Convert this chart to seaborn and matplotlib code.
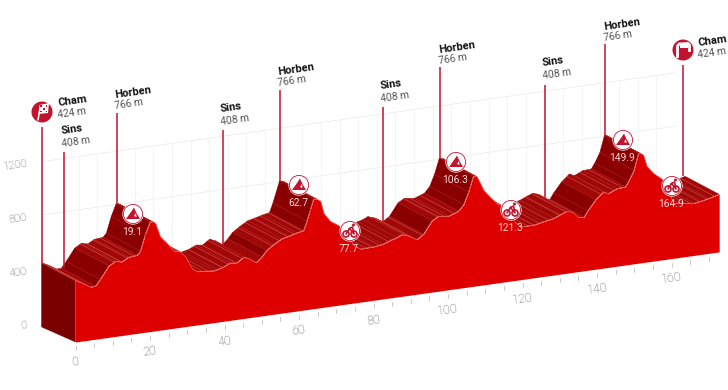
# Stage profile in an oblique 3D view: one elevation series drawn on a back and a front plane.
import matplotlib

matplotlib.use("Agg")
import matplotlib.pyplot as plt
import numpy as np
import seaborn as sns
from matplotlib.patches import Circle, Polygon, Rectangle
from matplotlib.transforms import Affine2D

km = [0, 1.8, 4.0, 5.3, 6.6, 8.9, 10.7, 12.4, 14.2, 16.5, 17.4, 18.7, 20.0, 20.6, 21.5, 22.8,
      24.6, 26.4, 28.2, 29.5, 31.3, 32.7, 37.1, 37.9, 39.5, 41.5, 43.2, 45.1, 46.5, 48.5, 50.0,
      51.3, 53.2, 55.4, 57.2, 59.4, 61.2, 62.1, 63.9, 64.9, 65.8, 66.7, 68.5, 71.1, 72.9, 74.7,
      76.5, 80.1, 82.5, 84.9, 86.2, 87.6, 89.5, 91.6, 93.4, 95.7, 97.4, 100.1, 102.8, 104.2,
      105.5, 106.8, 107.8, 108.7, 109.6, 111.4, 113.2, 115.1, 116.5, 118.2, 119.9, 123.0, 125.5,
      128.4, 130.1, 131.9, 133.5, 135.0, 136.5, 137.5, 139.6, 141.7, 143.0, 145.3, 147.6, 148.5,
      149.9, 151.1, 151.5, 152.5, 153.4, 155.2, 157.9, 159.0, 160.6, 166.0, 168.0, 170.0, 172.8]
elevation = [442, 417, 379, 379, 424, 516, 546, 534, 562, 568, 595, 714, 804, 804, 788, 682,
             626, 563, 547, 506, 412, 382, 371, 376, 387, 412, 405, 441, 427, 387, 424,
             468, 505, 540, 552, 568, 578, 645, 805, 799, 782, 686, 617, 569, 506, 417,
             380, 383, 392, 417, 427, 445, 427, 391, 424, 516, 544, 534, 561, 605,
             692, 808, 801, 747, 692, 632, 577, 547, 502, 412, 378, 378, 392,
             407, 428, 447, 432, 390, 383, 427, 501, 553, 535, 564, 568, 607,
             682, 804, 805, 787, 702, 640, 579, 507, 394, 373, 382, 394, 414]

place_names = ["Cham", "Sins", "Horben", "Sins", "Horben", "Sins", "Horben", "Sins", "Horben", "Cham"]
place_heights = ["424 m", "408 m", "766 m", "408 m", "766 m", "408 m", "766 m", "408 m", "766 m", "424 m"]
place_km = [0, 5.3, 20.0, 48.5, 63.9, 91.6, 106.8, 135.0, 151.1, 172.8]
climb_km = ["19.1", "62.7", "106.3", "149.9"]
sprint_km = ["77.7", "121.3", "164.9"]
x_ticks = [0, 20, 40, 60, 80, 100, 120, 140, 160]
y_ticks = [0, 400, 800, 1200]

RED = "#de0000"
STEEP = "#8a0000"
MILD = "#a00808"
SIDE = "#7a0000"
PIN = "#c2142f"
BASE = -18
ROT = 8

sns.set_theme(style="white")
plt.rcParams["font.family"] = ["Roboto", "DejaVu Sans"]
fig = plt.figure(figsize=(7.28, 3.9), dpi=100)
ax = fig.add_axes([0, 0, 1, 1])
ax.set_xlim(0, 728)
ax.set_ylim(390, 0)
ax.set_autoscale_on(False)
ax.axis("off")

# km / metres to picture pixels, for the near and the far plane
front = Affine2D(np.array([[3.725, 0, 75.5], [-0.5215, -0.1333, 339.6], [0, 0, 1]]))
back = Affine2D(np.array([[3.725, 0, 41.5], [-0.5215, -0.1333, 321.6], [0, 0, 1]]))

km_a = np.array(km)
ele_a = np.array(elevation)
pts_f = front.transform(np.column_stack([km_a, ele_a]))
pts_b = back.transform(np.column_stack([km_a, ele_a]))

# back wall grid
for h in [800, 1200]:
    ax.plot([0.6, 170], [h, h], color="#ececec", lw=0.6, transform=back + ax.transData, zorder=1)
for k in range(10, 170, 5):
    ax.plot([k, k], [0, 1200], color="#f3f3f3", lw=0.6, transform=back + ax.transData, zorder=1)

# end wall at the start
side = [back.transform((0, elevation[0])), front.transform((0, elevation[0])),
        front.transform((0, BASE)), back.transform((0, BASE - 22))]
ax.add_patch(Polygon(side, closed=True, fc=SIDE, ec=SIDE, lw=0.3, zorder=3))

# road surface: later km first, so the nearer ridges cover what is behind them
z = 4.0
depth = pts_f[0] - pts_b[0]
for i in range(len(km) - 2, -1, -1):
    seg = pts_b[i + 1] - pts_b[i]
    if seg[1] * depth[0] - seg[0] * depth[1] > 0:
        continue
    grade = (elevation[i + 1] - elevation[i]) / (km[i + 1] - km[i])
    steep = grade > 30
    fc = STEEP if steep else MILD
    quad = [pts_b[i], pts_b[i + 1], pts_f[i + 1], pts_f[i]]
    z += 0.001
    ax.add_patch(Polygon(quad, closed=True, fc=fc, ec=fc, lw=0.3, zorder=z))
    step = 3.2 if steep else 1.5
    for t in np.arange(km[i], km[i + 1], step):
        f = (t - km[i]) / (km[i + 1] - km[i])
        b0 = pts_b[i] + f * (pts_b[i + 1] - pts_b[i])
        f0 = pts_f[i] + f * (pts_f[i + 1] - pts_f[i])
        z += 0.001
        ax.plot([b0[0], f0[0]], [b0[1], f0[1]], color="#d8524a", lw=0.4, zorder=z)

# front face
ax.fill_between(km, elevation, BASE, color=RED, lw=0, transform=front + ax.transData, zorder=6)
sns.lineplot(x=km, y=elevation, color="#f0605a", lw=0.5, estimator=None, sort=False, ax=ax,
             transform=front + ax.transData, zorder=6.1)

# km ticks under the base
for k in range(0, 175, 5):
    p = front.transform((k, BASE))
    ax.plot([p[0], p[0]], [p[1] + 4, p[1] + 8], color="#c8c8c8", lw=0.7, zorder=2)
for k in x_ticks:
    p = front.transform((k, BASE))
    ax.text(p[0], p[1] + 20, str(k), ha="center", va="center", rotation=ROT, fontsize=9,
            color="#555555", fontweight="light")
for h in y_ticks:
    p = back.transform((0, h))
    ax.text(27.5, p[1] + 4, str(h), ha="right", va="center", rotation=ROT, fontsize=8,
            color="#555555", fontweight="light")

# place pins and labels
pin_top = [127, 152, 113, 130, 90, 107, 67, 85, 44, 65]
text_x = [57, 61, 114, 220, 277, 380, 438, 542, 603, 697]
text_y = [101, 130, 92, 108, 69, 85, 47, 62, 24, 41]
pin_x = [42, 63.5, 116.5, 222.7, 280, 383, 440, 545, 605, 682.5]
for name, height, k, top, tx, ty, x in zip(place_names, place_heights, place_km, pin_top, text_x, text_y, pin_x):
    foot = back.transform((k, float(np.interp(k, km, elevation))))
    ax.plot([x, x], [foot[1], top], color=PIN, lw=1.1, zorder=7, solid_capstyle="butt")
    ax.text(tx, ty, name, ha="left", va="center", rotation=ROT, fontsize=8, fontweight="bold",
            color="#111111", zorder=9)
    ax.text(tx, ty + 12, height, ha="left", va="center", rotation=ROT, fontsize=7.4, color="#555555",
            zorder=9)


def disc(x, y):
    ax.add_patch(Circle((x, y), 10.6, fc="white", ec="none", zorder=8))
    ax.add_patch(Circle((x, y), 9.6, fc="none", ec=PIN, lw=0.6, zorder=8.1))


def climb_icon(x, y):
    disc(x, y)
    ax.add_patch(Polygon([(x - 7, y + 5), (x - 2, y - 2), (x + 1, y - 6.5), (x + 3.5, y - 1),
                          (x + 7, y + 5)], closed=True, fc=PIN, ec="none", zorder=8.2))
    ax.add_patch(Polygon([(x + 1, y + 2), (x + 3, y - 1), (x + 3.5, y + 3)], closed=True, fc="white",
                         ec="none", zorder=8.3))


def sprint_icon(x, y):
    disc(x, y)
    for dx in (-4, 4):
        ax.add_patch(Circle((x + dx, y + 3), 3, fc="none", ec=PIN, lw=1.2, zorder=8.2))
    ax.plot([x - 4, x - 0.5, x + 4, x + 2.5, x - 0.5], [y + 3, y - 2.5, y + 3, y - 4, y - 2.5],
            color=PIN, lw=1.2, zorder=8.2)
    ax.add_patch(Circle((x + 3.5, y - 6), 1.5, fc=PIN, ec="none", zorder=8.2))


climb_pos = [(133, 214), (299, 185), (456, 162), (623, 140)]
for label, (x, y) in zip(climb_km, climb_pos):
    climb_icon(x, y)
    ax.text(x - 1, y + 18, label, ha="center", va="center", color="#f6d8d8", fontsize=7.4, zorder=9)

sprint_pos = [(350, 231), (511, 210), (672, 186)]
for label, (x, y) in zip(sprint_km, sprint_pos):
    sprint_icon(x, y)
    ax.text(x - 1, y + 18, label, ha="center", va="center", color="#f6d8d8", fontsize=7.4, zorder=9)

# start flag and finish arch
ax.add_patch(Circle((42, 112), 10.5, fc=PIN, ec="none", zorder=8))
ax.plot([38, 40.5], [120, 106], color="white", lw=1.1, zorder=8.1)
ax.add_patch(Polygon([(39.5, 105), (49, 103), (48, 113), (38.5, 114)], closed=True, fc="white", ec="none", zorder=8.1))
for r in range(3):
    for c in range(3):
        if (r + c) % 2 == 0:
            ax.add_patch(Rectangle((40.3 + c * 2.7, 105 + r * 2.8), 1.6, 1.8, fc=PIN, ec="none", zorder=8.2))

ax.add_patch(Circle((683, 50), 10.5, fc=PIN, ec="none", zorder=8))
ax.plot([677.5, 677.5, 679, 688, 689.5, 689.5], [58, 46, 44, 43.5, 45, 52], color="white", lw=2,
        zorder=8.1, solid_capstyle="butt")
ax.add_patch(Rectangle((679.5, 45), 8, 3, fc="white", ec="none", zorder=8.1))

fig.savefig("out.png", dpi=100)
